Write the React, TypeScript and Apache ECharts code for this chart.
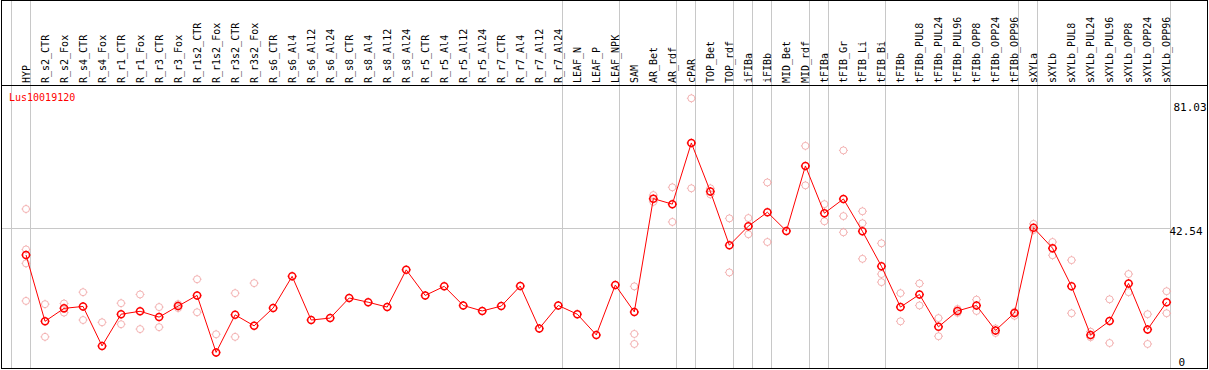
import React, { useEffect, useRef } from "react";
import * as echarts from "echarts";

const geneName = "Lus10019120";

const categories = [
  "HYP", "R_s2_CTR", "R_s2_Fox", "R_s4_CTR", "R_s4_Fox", "R_r1_CTR", "R_r1_Fox", "R_r3_CTR", "R_r3_Fox",
  "R_r1s2_CTR", "R_r1s2_Fox", "R_r3s2_CTR", "R_r3s2_Fox", "R_s6_CTR", "R_s6_Al4", "R_s6_Al12", "R_s6_Al24",
  "R_s8_CTR", "R_s8_Al4", "R_s8_Al12", "R_s8_Al24", "R_r5_CTR", "R_r5_Al4", "R_r5_Al12", "R_r5_Al24",
  "R_r7_CTR", "R_r7_Al4", "R_r7_Al12", "R_r7_Al24", "LEAF_N", "LEAF_P", "LEAF_NPK", "SAM", "AR_Bet", "AR_rdf",
  "cPAR", "TOP_Bet", "TOP_rdf", "iFIBa", "iFIBb", "MID_Bet", "MID_rdf", "tFIBa", "tFIB_Gr", "tFIB_Li", "tFIB_Bi",
  "tFIBb", "tFIBb_PUL8", "tFIBb_PUL24", "tFIBb_PUL96", "tFIBb_OPP8", "tFIBb_OPP24", "tFIBb_OPP96",
  "sXYLa", "sXYLb", "sXYLb_PUL8", "sXYLb_PUL24", "sXYLb_PUL96", "sXYLb_OPP8", "sXYLb_OPP24", "sXYLb_OPP96",
];

const means = [
  34.3, 13.8, 17.8, 18.4, 6.2, 16.0, 16.9, 15.1, 18.5, 21.8, 4.2, 15.8, 12.4, 17.9, 27.7, 14.2, 14.8,
  21.0, 19.7, 18.2, 29.7, 21.8, 24.6, 18.7, 17.0, 18.5, 24.7, 11.6, 18.7, 16.0, 9.6, 25.0, 16.7, 51.7, 50.0,
  68.9, 53.9, 37.3, 43.2, 47.5, 41.7, 61.8, 47.2, 51.6, 41.6, 30.8, 18.2, 22.1, 12.1, 17.0, 18.7, 11.0, 16.4,
  42.7, 36.4, 24.6, 9.6, 13.9, 25.5, 11.3, 19.7,
];

const rep1 = [
  48.5, 19.1, 19.3, 22.8, 13.5, 19.4, 22.1, 18.2, 19.1, 26.8, 9.8, 22.5, 25.6, null, null, null, null,
  null, null, null, null, null, null, null, null, null, null, null, null, null, null, null, 24.6, 52.8, 55.2,
  82.7, 54.9, 45.6, 45.7, 56.7, null, 68.0, 50.0, 66.6, 47.8, 37.9, 22.5, 25.5, 14.8, 17.6, 20.5, 11.6, 16.7,
  43.9, 38.3, 32.7, 10.6, 20.6, 28.4, 16.0, 23.1,
];

const rep2 = [
  36.0, 9.0, 16.5, 14.2, -1.2, 12.9, 11.4, 12.0, 17.9, 16.6, -1.4, 9.0, -0.8, null, null, null, null,
  null, null, null, null, null, null, null, null, null, null, null, null, null, null, null, 9.9, 50.7, 44.5,
  54.9, 53.0, 28.9, 40.7, 38.3, null, 55.8, 44.7, 46.3, 44.1, 28.4, 13.8, 18.7, 9.2, 16.4, 17.0, 10.2, 15.5,
  42.0, 34.2, 16.3, 8.9, 7.1, 22.8, 6.8, 16.3,
];

const rep3 = [
  31.7, null, null, null, null, null, null, null, null, null, null, null, null, null, null, null, null,
  null, null, null, null, null, null, null, null, null, null, null, null, null, null, null, 6.8, null, null,
  null, null, null, null, null, null, null, null, 41.3, 33.1, 25.9, null, null, null, null, null, null, null,
  null, null, null, null, null, null, null, null,
];

const rep4 = [
  20.1, null, null, null, null, null, null, null, null, null, null, null, null, null, null, null, null,
  null, null, null, null, null, null, null, null, null, null, null, null, null, null, null, null, null, null,
  null, null, null, null, null, null, null, null, null, null, null, null, null, null, null, null, null, null,
  null, null, null, null, null, null, null, null,
];

// index of the last category of each group (separator drawn just after it)
const groupEnds = [-1, 0, 28, 31, 34, 35, 37, 38, 39, 41, 42, 45, 52, 53, 60];
const yLabelValues = [81.03, 42.54, 0];
const gridValue = 42.54;

const Y_MIN = -0.62;
const Y_MAX = 86.8;

const markerPath =
  "path://M1,4.5 A3.5,3.5 0 1,1 8,4.5 A3.5,3.5 0 1,1 1,4.5 Z M4.5,0 L4.5,1 M4.5,8 L4.5,9 M0,4.5 L1,4.5 M8,4.5 L9,4.5";

const FONT = "DejaVu Sans Mono";

export default function App() {
  const ref = useRef<HTMLDivElement>(null);

  useEffect(() => {
    if (!ref.current) return;
    const chart = echarts.init(ref.current, null, { renderer: "svg" });

    const repData: [number, number][] = [];
    [rep1, rep2, rep3, rep4].forEach((arr) => {
      arr.forEach((v, i) => {
        if (v !== null && v !== undefined) repData.push([i, v as number]);
      });
    });

    const option: any = {
      animation: false,
      backgroundColor: "#ffffff",
      grid: { left: 16.5, right: 32.9, top: 85, bottom: 2, containLabel: false },
      xAxis: {
        type: "category",
        data: categories,
        position: "top",
        boundaryGap: true,
        axisLine: { show: false },
        axisTick: { show: false },
        splitLine: { show: false },
        axisLabel: {
          rotate: 90,
          interval: 0,
          margin: 2,
          fontSize: 10,
          fontFamily: FONT,
          color: "#000",
        },
      },
      yAxis: { type: "value", min: Y_MIN, max: Y_MAX, show: false },
      series: [
        {
          type: "scatter",
          data: repData,
          symbol: markerPath,
          symbolSize: 9,
          z: 2,
          itemStyle: { color: "rgba(0,0,0,0)", borderColor: "#f0a0a0", borderWidth: 1 },
        },
        {
          type: "line",
          data: means,
          symbol: markerPath,
          symbolSize: 9,
          showSymbol: true,
          showAllSymbol: true,
          z: 3,
          lineStyle: { color: "#ff0000", width: 1 },
          itemStyle: { color: "rgba(0,0,0,0)", borderColor: "#ff0000", borderWidth: 1.5 },
        },
      ],
    };
    chart.setOption(option);

    const x0 = chart.convertToPixel({ xAxisIndex: 0 }, categories[0]) as number;
    const x1 = chart.convertToPixel({ xAxisIndex: 0 }, categories[1]) as number;
    const step = x1 - x0;
    const yPx = (v: number) => chart.convertToPixel({ yAxisIndex: 0 }, v) as number;
    const W = 1209;
    const bottomY = 368.5;
    const sepX = groupEnds.map((e) => Math.round(x0 + step * (e + 0.2)) + 0.5);
    const plotRight = sepX[sepX.length - 1];

    const graphics: any[] = [];
    sepX.forEach((x) => {
      graphics.push({
        type: "line",
        z: 0,
        silent: true,
        shape: { x1: x, y1: 0, x2: x, y2: bottomY },
        style: { stroke: "#c8c8c8", lineWidth: 1 },
      });
    });
    const gy = Math.round(yPx(gridValue)) + 0.5;
    graphics.push({
      type: "line",
      z: 0,
      silent: true,
      shape: { x1: 1, y1: gy, x2: plotRight, y2: gy },
      style: { stroke: "#c8c8c8", lineWidth: 1 },
    });
    // frame
    const frame = [
      [1, 0.5, W - 1, 0.5],
      [1, 85.5, W - 1, 85.5],
      [1, bottomY, W - 1, bottomY],
      [1.5, 0, 1.5, bottomY],
      [W - 1.5, 0, W - 1.5, bottomY],
    ];
    frame.forEach(([a, b, c, d]) => {
      graphics.push({
        type: "line",
        z: 50,
        silent: true,
        shape: { x1: a, y1: b, x2: c, y2: d },
        style: { stroke: "#000", lineWidth: 1 },
      });
    });
    graphics.push({
      type: "text",
      z: 50,
      x: 9,
      y: 97,
      style: { text: geneName, fill: "#ff0000", font: `10px '${FONT}'`, verticalAlign: "middle", align: "left" },
    });
    yLabelValues.forEach((v, k) => {
      const py = Math.min(yPx(v) + 3.5, bottomY - 6.5);
      const lx = k === 1 ? plotRight - 1 : k === 0 ? plotRight + 3 : plotRight + 8;
      graphics.push({
        type: "text",
        z: 50,
        x: lx,
        y: py,
        style: { text: String(v), fill: "#000", font: `11px '${FONT}'`, verticalAlign: "middle", align: "left" },
      });
    });

    chart.setOption({ graphic: graphics });

    return () => chart.dispose();
  }, []);

  return (
    <div
      ref={ref}
      style={{ position: "fixed", left: 0, top: 0, width: 1209, height: 370, background: "#fff" }}
    />
  );
}
